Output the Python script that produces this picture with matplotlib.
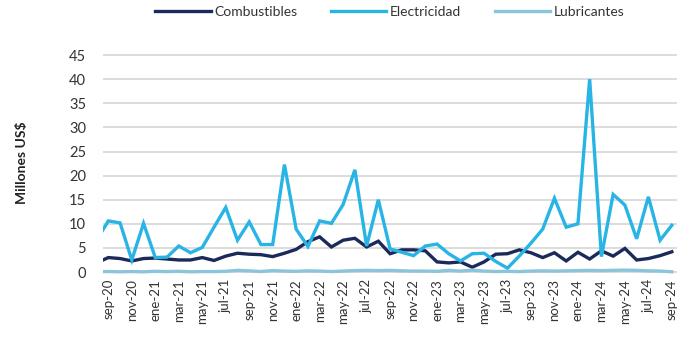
import matplotlib
matplotlib.use("Agg")
import matplotlib.pyplot as plt
import numpy as np

plt.rcParams["font.family"] = ["Lato", "DejaVu Sans"]

# monthly series, ago-20 .. sep-24 (first point falls just outside the plot area)
months = [
    "ago-20", "sep-20", "oct-20", "nov-20", "dic-20",
    "ene-21", "feb-21", "mar-21", "abr-21", "may-21", "jun-21",
    "jul-21", "ago-21", "sep-21", "oct-21", "nov-21", "dic-21",
    "ene-22", "feb-22", "mar-22", "abr-22", "may-22", "jun-22",
    "jul-22", "ago-22", "sep-22", "oct-22", "nov-22", "dic-22",
    "ene-23", "feb-23", "mar-23", "abr-23", "may-23", "jun-23",
    "jul-23", "ago-23", "sep-23", "oct-23", "nov-23", "dic-23",
    "ene-24", "feb-24", "mar-24", "abr-24", "may-24", "jun-24",
    "jul-24", "ago-24", "sep-24",
]

combustibles = [
    1.9, 3.0, 2.8, 2.3, 2.8,
    2.9, 2.7, 2.5, 2.5, 3.0, 2.4,
    3.3, 3.9, 3.7, 3.6, 3.2, 3.9,
    4.7, 6.3, 7.3, 5.2, 6.6, 7.0,
    5.2, 6.4, 3.8, 4.6, 4.6, 4.4,
    2.1, 1.9, 2.1, 1.0, 2.1, 3.7,
    3.8, 4.6, 4.0, 3.0, 4.0, 2.3,
    4.1, 2.7, 4.4, 3.3, 4.9, 2.5,
    2.8, 3.4, 4.2,
]

electricidad = [
    6.6, 10.6, 10.2, 2.5, 10.1,
    3.0, 3.1, 5.4, 4.0, 5.1, 9.3,
    13.4, 6.6, 10.4, 5.7, 5.7, 22.3,
    8.9, 5.3, 10.6, 10.1, 14.0, 21.2,
    5.4, 15.0, 4.8, 4.1, 3.4, 5.4,
    5.8, 3.8, 2.3, 3.8, 3.9, 2.2,
    0.8, 3.3, 6.0, 8.9, 15.3, 9.3,
    10.0, 40.0, 3.2, 16.1, 13.9, 6.9,
    15.6, 6.6, 9.7,
]

lubricantes = [
    0.1, 0.1, 0.05, 0.1, 0.05,
    0.15, 0.1, 0.15, 0.05, 0.1, 0.1,
    0.15, 0.35, 0.25, 0.1, 0.3, 0.2,
    0.15, 0.25, 0.2, 0.1, 0.2, 0.3,
    0.35, 0.3, 0.35, 0.25, 0.2, 0.2,
    0.15, 0.35, 0.2, 0.4, 0.2, 0.1,
    0.15, 0.1, 0.2, 0.25, 0.2, 0.25,
    0.3, 0.35, 0.3, 0.35, 0.4, 0.35,
    0.25, 0.2, 0.05,
]

series = [
    ("Combustibles", combustibles, "#1C2A5B"),
    ("Electricidad", electricidad, "#28B4E4"),
    ("Lubricantes", lubricantes, "#8CC5DA"),
]

x = np.arange(len(months)) - 1  # sep-20 sits at 0

fig = plt.figure(figsize=(6.9, 3.39), dpi=100)
ax = fig.add_axes([0.149, 0.189, 0.832, 0.657])

for name, vals, color in series:
    ax.plot(x, vals, color=color, linewidth=2.4, label=name,
            solid_joinstyle="miter", zorder=3)

ax.set_xlim(-0.47, 48.43)
ax.set_ylim(-0.6, 45.6)
ax.set_yticks(np.arange(0, 46, 5))
ax.yaxis.grid(True, color="#d9d9d9", linewidth=1.3)
ax.set_axisbelow(True)

tick_pos = x[1::2]
ax.set_xticks(tick_pos)
ax.set_xticklabels(months[1::2], rotation=90, fontsize=9.5, color="#333333")
ax.tick_params(axis="y", labelsize=10.5, labelcolor="#333333", pad=12)
ax.tick_params(length=0)
ax.tick_params(axis="x", pad=3)

for s in ax.spines.values():
    s.set_visible(False)

fig.text(0.032, 0.52, "Millones US$", rotation=90, fontsize=10,
         fontweight="bold", ha="center", va="center", color="#222222")

fig.legend(loc="center", bbox_to_anchor=(0.565, 0.965), ncol=3, frameon=False,
           fontsize=10, handlelength=4.0, handletextpad=0.25, columnspacing=2.4,
           labelcolor="#333333")

fig.savefig("out.png", dpi=100)
